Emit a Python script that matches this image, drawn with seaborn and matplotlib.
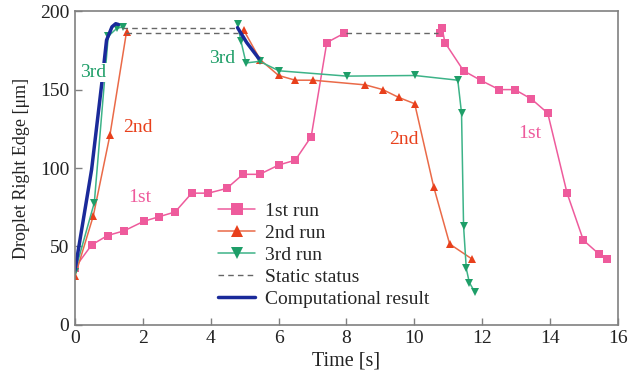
import matplotlib
matplotlib.use("Agg")
import matplotlib.pyplot as plt
import seaborn as sns
import pandas as pd
from matplotlib.lines import Line2D

# ---- data ----
t1 = [0.0, 0.49, 0.96, 1.45, 2.02, 2.48, 2.95, 3.44, 3.93, 4.47, 4.95, 5.44, 6.01, 6.49, 6.96, 7.42, 7.94,
      10.75, 10.82, 10.9, 11.45, 11.95, 12.5, 12.96, 13.45, 13.93, 14.5, 14.98, 15.45, 15.68]
y1 = [36.5, 51, 57, 60, 66, 69, 72, 84, 84, 87, 96, 96, 102, 105, 120, 180, 186,
      186, 189, 180, 162, 156, 150, 150, 144, 135, 84, 54, 45, 42]
seg1 = [0] * 17 + [1] * 13

t2 = [0.0, 0.54, 1.03, 1.52, 4.97, 5.46, 6.0, 6.49, 7.01, 8.56, 9.07, 9.54, 10.01, 10.57, 11.04, 11.7]
y2 = [31, 69.5, 121, 187, 188, 169, 159, 156, 156, 153, 150, 145, 141, 88, 51.6, 42]
seg2 = [0] * 4 + [1] * 12

t3 = [0.0, 0.57, 0.98, 1.23, 1.42, 4.79, 4.89, 5.04, 5.44, 6.01, 8.01, 10.01, 11.28, 11.39, 11.45, 11.53, 11.62, 11.78]
y3 = [34, 78, 184, 189, 190, 192, 181, 167, 168, 162, 158.6, 159, 156, 135, 63, 36, 27, 21]
seg3 = [0] * 5 + [1] * 13

static_t = [[1.4, 4.8], [1.5, 4.8], [8.0, 10.7]]
static_y = [189, 186, 186]

comp_t1 = [0.0, 0.49, 0.79, 0.93, 1.09, 1.2, 1.28]
comp_y1 = [35, 99, 154, 181.5, 190, 192, 191.5]
comp_t2 = [4.79, 5.06, 5.41]
comp_y2 = [189.5, 180, 170]

labels = ["1st run", "2nd run", "3rd run", "Static status", "Computational result"]
xticks = [0, 2, 4, 6, 8, 10, 12, 14, 16]
yticks = [0, 50, 100, 150, 200]

PINK = "#EE5B9C"
RED = "#E8401C"
RED_LINE = "#EA6A48"
GREEN = "#1E9E68"
GREEN_LINE = "#3DB388"
BLUE = "#1A2A9A"

sns.set_theme(style="white")
plt.rcParams["font.family"] = ["Liberation Serif", "DejaVu Serif"]

fig = plt.figure(figsize=(6.43, 3.85), dpi=100)
ax = fig.add_axes([0.1166, 0.156, 0.8445, 0.815])

df1 = pd.DataFrame({"t": t1, "y": y1, "seg": seg1})
df2 = pd.DataFrame({"t": t2, "y": y2, "seg": seg2})
df3 = pd.DataFrame({"t": t3, "y": y3, "seg": seg3})

common = dict(x="t", y="y", units="seg", sort=False, estimator=None, ax=ax, lw=1.1,
              markersize=6, markeredgewidth=0)
sns.lineplot(data=df1, color=PINK, marker="s", markerfacecolor=PINK, **common)
sns.lineplot(data=df2, color=RED_LINE, marker="^", markerfacecolor=RED, **common)
sns.lineplot(data=df3, color=GREEN_LINE, marker="v", markerfacecolor=GREEN, **common)
for ts, yv in zip(static_t, static_y):
    ax.plot(ts, [yv, yv], ls=(0, (4, 3)), color="#666666", lw=1.0)
ax.plot(comp_t1, comp_y1, color=BLUE, lw=2.5, solid_capstyle="round")
ax.plot(comp_t2, comp_y2, color=BLUE, lw=2.5, solid_capstyle="round")

handles = [
    Line2D([], [], color=PINK, lw=1.1, marker="s", markersize=9, markeredgewidth=0),
    Line2D([], [], color=RED_LINE, lw=1.1, marker="^", markersize=9, markeredgewidth=0, markerfacecolor=RED),
    Line2D([], [], color=GREEN_LINE, lw=1.1, marker="v", markersize=9, markeredgewidth=0, markerfacecolor=GREEN),
    Line2D([], [], color="#666666", lw=1.0, ls=(0, (4, 3))),
    Line2D([], [], color=BLUE, lw=2.5),
]

fs = 14
bb = dict(facecolor="white", edgecolor="none", pad=0.5)
ax.text(0.53, 161, "3rd", color=GREEN, fontsize=fs, ha="center", va="center", bbox=bb, zorder=5)
ax.text(1.86, 126, "2nd", color=RED, fontsize=fs, ha="center", va="center")
ax.text(1.92, 81, "1st", color=PINK, fontsize=fs, ha="center", va="center")
ax.text(4.34, 170, "3rd", color=GREEN, fontsize=fs, ha="center", va="center")
ax.text(9.7, 118, "2nd", color=RED, fontsize=fs, ha="center", va="center")
ax.text(13.4, 122, "1st", color=PINK, fontsize=fs, ha="center", va="center")

ax.set_xlim(0, 16)
ax.set_ylim(0, 200)
ax.set_xticks(xticks)
ax.set_yticks(yticks)
ax.tick_params(direction="in", length=5, width=1, color="#808080", labelsize=fs, pad=4,
               bottom=True, left=True, labelcolor="#222222")
for s in ax.spines.values():
    s.set_color("#808080")
    s.set_linewidth(1.2)
ax.set_xlabel("Time [s]", fontsize=fs + 0.5, labelpad=3, color="#222222")
ax.set_ylabel("Droplet Right Edge [μm]", fontsize=13, labelpad=7, color="#222222")

ax.legend(handles, labels, loc="upper left", bbox_to_anchor=(0.264, 0.39), frameon=False, fontsize=fs,
          handlelength=1.9, handletextpad=0.5, labelspacing=0.22, borderpad=0, borderaxespad=0)

fig.savefig("out.png", dpi=100)
